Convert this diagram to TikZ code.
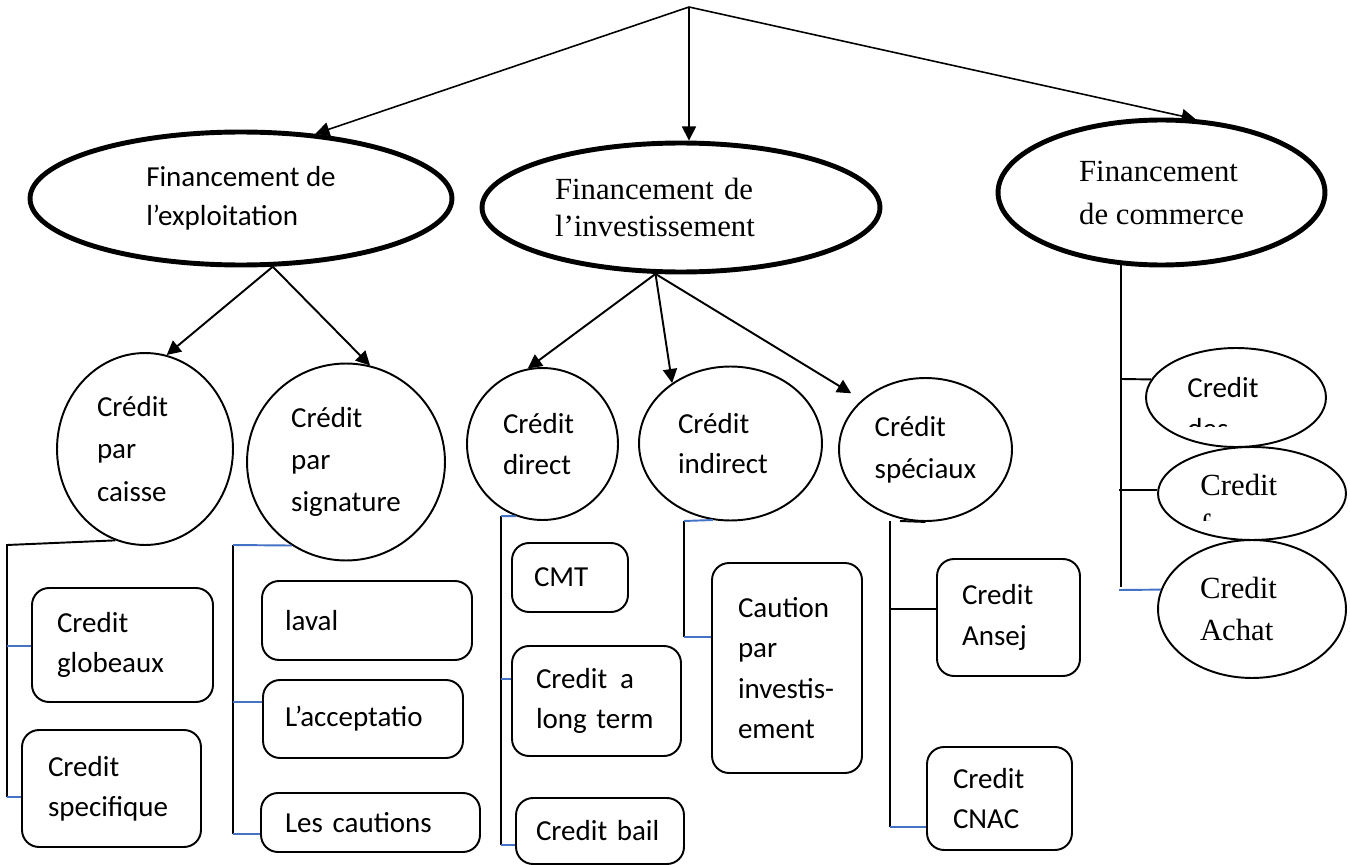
\documentclass[tikz,border=0pt]{standalone}
\usepackage{fontspec}
\setmainfont{Carlito}
\newfontfamily\timesfont{Liberation Serif}
\usetikzlibrary{shapes.geometric}
\usetikzlibrary{arrows.meta}
\definecolor{tickblue}{RGB}{68,114,196}
\hyphenpenalty=10000
\exhyphenpenalty=10000

\begin{document}
\begin{tikzpicture}[x=0.02cm,y=-0.02cm,
every node/.style={font=\fontsize{16.5}{23}\selectfont},
bigell/.style={draw,ellipse,line width=2.8pt,inner sep=0pt,align=left},
bub/.style={draw,ellipse,line width=1.1pt,inner sep=0pt,align=left},
card/.style={draw,rounded corners=0.34cm,line width=1.1pt,inner sep=0pt,align=left},
serif/.style={font=\timesfont\fontsize{17.5}{22.5}\selectfont},
arr/.style={line width=1.1pt,-{Triangle[length=8pt,width=8pt]}},
brk/.style={line width=1.1pt},
brkblue/.style={line width=1.1pt,draw=tickblue}]
\useasboundingbox (0,0) rectangle (1350,865);
\coordinate (top) at (689,7);
\node[bigell,minimum width=8.44cm,minimum height=2.66cm,font=\fontsize{16.5}{22}\selectfont] (fexp) at (241,198.5) {Financement de\\l’exploitation};
\node[bigell,minimum width=7.96cm,minimum height=2.58cm,text width=5.04cm,font=\timesfont\fontsize{17.5}{21}\selectfont] (finv) at (681,207.5) {Financement de\\l’investissement};
\node[bigell,minimum width=6.54cm,minimum height=2.9cm,font=\timesfont\fontsize{17.5}{24.5}\selectfont] (fcom) at (1161.5,192.5) {Financement\\de commerce};
\node[bub,minimum width=3.52cm,minimum height=3.84cm,text width=1.92cm,font=\fontsize{16.5}{24}\selectfont] (ccai) at (145,449) {Crédit\\par\\caisse};
\node[bub,minimum width=3.96cm,minimum height=3.94cm,font=\fontsize{16.5}{24}\selectfont] (csig) at (346,462) {Crédit\\par\\signature};
\node[bub,minimum width=3.02cm,minimum height=3.04cm,text width=1.58cm] (cdir) at (542.5,444) {Crédit\\direct};
\node[bub,minimum width=3.66cm,minimum height=3.08cm,text width=2.1cm] (cind) at (730.5,443.5) {Crédit\\indirect};
\node[bub,minimum width=3.46cm,minimum height=2.86cm,font=\fontsize{16.5}{24}\selectfont] (cspe) at (925.5,449.5) {Crédit\\spéciaux};
\node[bub,minimum width=3.6cm,minimum height=1.98cm] (cdes) at (1236,397.5) {};
\node[bub,minimum width=3.76cm,minimum height=1.86cm] (cfou) at (1252,493.5) {};
\node[bub,serif,minimum width=3.76cm,minimum height=2.76cm,text width=2.08cm,font=\timesfont\fontsize{17.5}{23.5}\selectfont] (cach) at (1252,609) {Credit\\Achat};
\begin{scope}
\clip (1140,340) rectangle (1330,426);
\node[anchor=west,inner sep=0pt,align=left] (cdestxt) at (1187,408) {Credit\\des};
\end{scope}
\begin{scope}
\clip (1150,450) rectangle (1340,520);
\node[serif,anchor=west,inner sep=0pt,align=left] (cfoutxt) at (1200,505) {Credit\\f};
\end{scope}
\node[card,minimum width=3.62cm,minimum height=2.28cm,text width=2.62cm] (cglo) at (122.5,645) {Credit\\globeaux};
\node[card,minimum width=3.58cm,minimum height=2.34cm,text width=2.54cm] (cspf) at (111.5,788.5) {Credit\\specifique};
\node[card,minimum width=4.2cm,minimum height=1.58cm,text width=3.28cm] (aval) at (367,620.5) {laval};
\node[card,minimum width=4.0cm,minimum height=1.56cm,text width=3.12cm] (acce) at (363,719) {L’acceptatio};
\node[card,minimum width=4.38cm,minimum height=1.18cm,text width=3.42cm] (caut) at (370.5,822.5) {Les cautions};
\node[card,minimum width=2.32cm,minimum height=1.38cm,text width=1.44cm] (cmt) at (570,577.5) {CMT};
\node[card,minimum width=3.38cm,minimum height=2.2cm,text width=2.42cm] (clt) at (596.5,701) {Credit\hspace{0.26cm}a\\long term};
\node[card,minimum width=3.36cm,minimum height=1.32cm,text width=2.56cm] (cbail) at (600,831) {Credit bail};
\node[card,minimum width=3.0cm,minimum height=4.2cm,text width=1.96cm] (cpi) at (787,668) {Caution\\par\\investis-\\ement};
\node[card,minimum width=2.86cm,minimum height=2.34cm,text width=1.86cm] (cans) at (1008.5,617.5) {Credit\\Ansej};
\node[card,minimum width=2.9cm,minimum height=2.06cm,text width=1.86cm] (ccnac) at (999.5,798.5) {Credit\\CNAC};
\draw[arr,line width=0.9pt] (top) -- (fexp.41);
\draw[arr,line width=0.9pt] (top) -- (top |- finv.north);
\draw[arr,line width=0.9pt] (top) -- (fcom.65);
\draw[arr] (fexp.295) -- (ccai.77);
\draw[arr] (fexp.295) -- (csig.76);
\draw[arr] (finv.249) -- (cdir.101);
\draw[arr] (finv.249) -- (cind.134);
\draw[arr,shorten >=0.25cm] (finv.249) -- (cspe.142);
\coordinate (kcaiA) at (7,545);
\coordinate (kcaiM) at (7,646);
\coordinate (kcaiB) at (7,797);
\draw[brk] (ccai.252) -- (kcaiA) -- (kcaiB);
\draw[brkblue] (kcaiM) -- (kcaiM -| cglo.west);
\draw[brkblue] (kcaiB) -- (kcaiB -| cspf.west);
\coordinate (ksigA) at (233,545);
\coordinate (ksigM) at (233,702);
\coordinate (ksigB) at (233,834);
\draw[brk] (ksigA) -- (ksigB);
\draw[brkblue] (ksigA) -- (csig.237);
\draw[brkblue] (ksigM) -- (ksigM -| acce.west);
\draw[brkblue] (ksigB) -- (ksigB -| caut.west);
\coordinate (kdirA) at (501,516);
\coordinate (kdirM) at (501,679);
\coordinate (kdirB) at (501,845);
\draw[brk] (kdirA) -- (kdirB);
\draw[brkblue] (kdirA) -- (cdir.250);
\draw[brkblue] (kdirM) -- (kdirM -| clt.west);
\draw[brkblue] (kdirB) -- (kdirB -| cbail.west);
\coordinate (kindA) at (684,521);
\coordinate (kindB) at (684,637);
\draw[brk] (kindA) -- (kindB);
\draw[brkblue] (kindA) -- (cind.257);
\draw[brkblue] (kindB) -- (kindB -| cpi.west);
\coordinate (kspeA) at (890,521);
\coordinate (kspeT) at (900,521);
\coordinate (kspeM) at (890,609);
\coordinate (kspeB) at (890,827);
\draw[brk] (kspeA) -- (kspeB);
\draw[brk] (kspeT) -- (cspe.south);
\draw[brk] (kspeM) -- (kspeM -| cans.west);
\draw[brkblue] (kspeB) -- (kspeB -| ccnac.west);
\coordinate (kcomA) at (1122,379);
\coordinate (kcomM) at (1119,490);
\coordinate (kcomB) at (1119,590);
\coordinate (kcomE) at (1122,587);
\draw[brk] (fcom.241) -- (fcom.241 |- kcomE);
\draw[brk] (kcomA) -- (cdes.168);
\draw[brk] (kcomM) -- (kcomM -| cfou.west);
\draw[brkblue] (kcomB) -- (cach.168);
\end{tikzpicture}
\end{document}
